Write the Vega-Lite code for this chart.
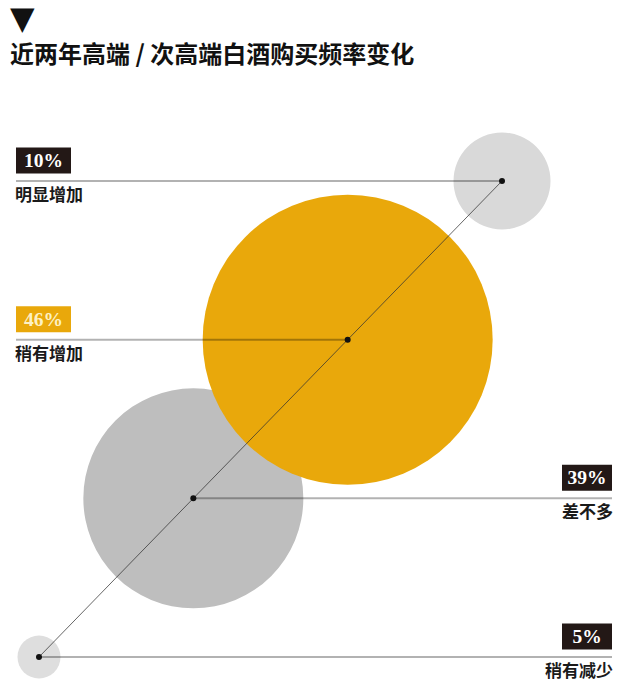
{
  "$schema": "https://vega.github.io/schema/vega-lite/v6.json",
  "width": 630,
  "height": 610,
  "autosize": {"type": "none"},
  "padding": {"top": 80, "left": 0, "right": 0, "bottom": 0},
  "background": "white",
  "title": {
    "text": "▼",
    "subtitle": "近两年高端 / 次高端白酒购买频率变化",
    "anchor": "start",
    "frame": "group",
    "dx": 10,
    "offset": 11,
    "font": "DejaVu Sans",
    "fontSize": 32,
    "color": "#111111",
    "subtitleFont": "Noto Sans CJK SC",
    "subtitleFontSize": 24,
    "subtitleFontWeight": "bold",
    "subtitleColor": "#111111",
    "subtitlePadding": 8
  },
  "config": {"view": {"stroke": null}},
  "data": {
    "values": [
      {"cat": "稍有减少", "pct": 5, "pctText": "5%", "side": "right", "rank": 1},
      {"cat": "差不多", "pct": 39, "pctText": "39%", "side": "right", "rank": 2},
      {"cat": "稍有增加", "pct": 46, "pctText": "46%", "side": "left", "rank": 3},
      {"cat": "明显增加", "pct": 10, "pctText": "10%", "side": "left", "rank": 4}
    ]
  },
  "encoding": {
    "x": {"field": "cat", "type": "nominal", "axis": null,
      "scale": {"type": "point", "domain": ["稍有减少", "差不多", "稍有增加", "明显增加"], "range": [39, 502], "padding": 0}},
    "y": {"field": "cat", "type": "nominal", "axis": null,
      "scale": {"type": "point", "domain": ["稍有减少", "差不多", "稍有增加", "明显增加"], "range": [577, 101], "padding": 0}}
  },
  "layer": [
    {
      "mark": {"type": "circle", "opacity": 1},
      "encoding": {
        "size": {"field": "pct", "type": "quantitative", "legend": null,
          "scale": {"type": "linear", "zero": false, "domain": [5, 10, 39, 46], "range": [1849, 9409, 48400, 84100]}},
        "color": {"field": "cat", "type": "nominal", "legend": null,
          "scale": {"domain": ["稍有减少", "差不多", "稍有增加", "明显增加"], "range": ["#dedede", "#bebebe", "#e9a80b", "#d9d9d9"]}}
      }
    },
    {
      "mark": {"type": "line", "color": "#333333", "strokeWidth": 1, "opacity": 0.75},
      "encoding": {"order": {"field": "rank", "type": "quantitative"}}
    },
    {
      "transform": [{"filter": "datum.side === 'left'"}],
      "mark": {"type": "rule", "color": "#000000", "opacity": 0.3, "strokeWidth": 2},
      "encoding": {"x2": {"value": 16}}
    },
    {
      "transform": [{"filter": "datum.side === 'right'"}],
      "mark": {"type": "rule", "color": "#000000", "opacity": 0.3, "strokeWidth": 2},
      "encoding": {"x2": {"value": 612}}
    },
    {
      "mark": {"type": "circle", "size": 36, "color": "#111111", "opacity": 1}
    },
    {
      "transform": [{"filter": "datum.side === 'left'"}],
      "mark": {"type": "rect", "height": 26, "yOffset": -20.5},
      "encoding": {
        "x": {"value": 16}, "x2": {"value": 71},
        "fill": {"field": "cat", "type": "nominal", "legend": null,
          "scale": {"domain": ["稍有减少", "差不多", "稍有增加", "明显增加"], "range": ["#231816", "#231816", "#e9a80b", "#231816"]}}
      }
    },
    {
      "transform": [{"filter": "datum.side === 'right'"}],
      "mark": {"type": "rect", "height": 26, "yOffset": -20.5},
      "encoding": {
        "x": {"value": 562}, "x2": {"value": 612},
        "fill": {"field": "cat", "type": "nominal", "legend": null}
      }
    },
    {
      "transform": [{"filter": "datum.side === 'left'"}],
      "mark": {"type": "text", "font": "Liberation Serif", "fontWeight": "bold", "fontSize": 19.5, "align": "center", "baseline": "middle", "yOffset": -20},
      "encoding": {
        "x": {"value": 43.5},
        "text": {"field": "pctText"},
        "color": {"condition": {"test": "datum.cat === '稍有增加'", "value": "#fdf1c4"}, "value": "#ffffff"}
      }
    },
    {
      "transform": [{"filter": "datum.side === 'right'"}],
      "mark": {"type": "text", "font": "Liberation Serif", "fontWeight": "bold", "fontSize": 19.5, "align": "center", "baseline": "middle", "yOffset": -20, "color": "#ffffff"},
      "encoding": {
        "x": {"value": 587},
        "text": {"field": "pctText"}
      }
    },
    {
      "transform": [{"filter": "datum.side === 'left'"}],
      "mark": {"type": "text", "font": "Noto Sans CJK SC", "fontWeight": "bold", "fontSize": 17, "align": "left", "baseline": "middle", "yOffset": 15, "color": "#1a1a1a"},
      "encoding": {
        "x": {"value": 15},
        "text": {"field": "cat"}
      }
    },
    {
      "transform": [{"filter": "datum.side === 'right'"}],
      "mark": {"type": "text", "font": "Noto Sans CJK SC", "fontWeight": "bold", "fontSize": 17, "align": "right", "baseline": "middle", "yOffset": 15, "color": "#1a1a1a"},
      "encoding": {
        "x": {"value": 613},
        "text": {"field": "cat"}
      }
    }
  ]
}
